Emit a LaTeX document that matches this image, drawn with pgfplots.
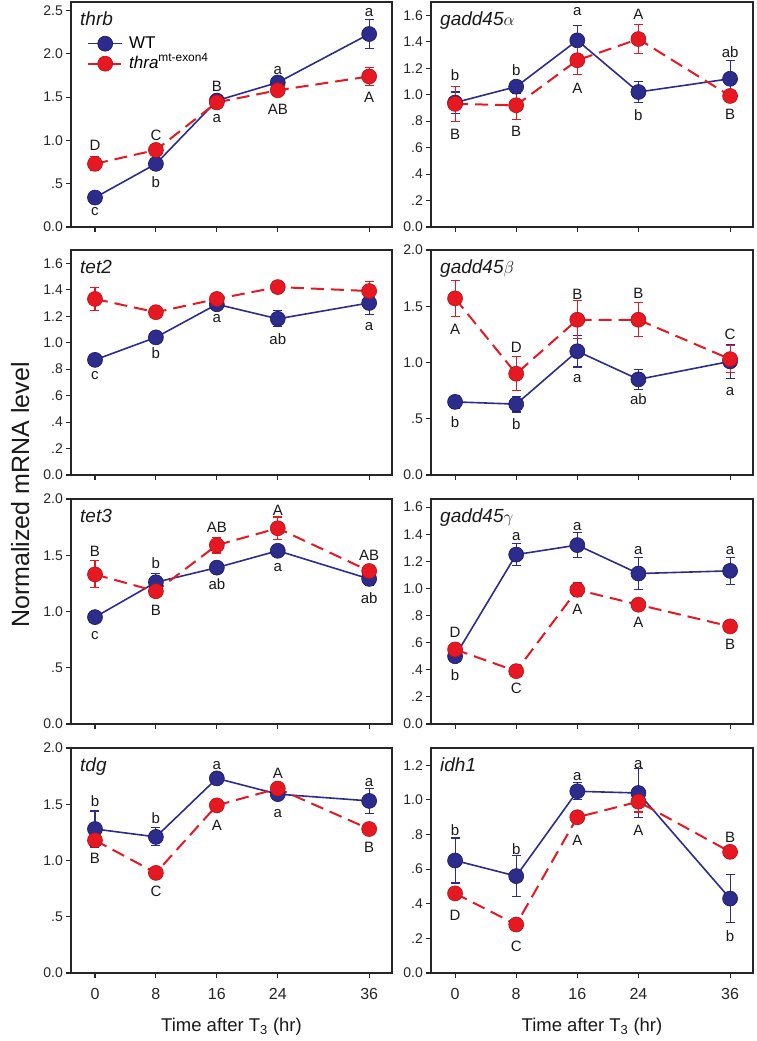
\documentclass[border=0pt]{standalone}
\usepackage{fontspec}
\setmainfont{Liberation Sans}
\usepackage{pgfplots}
\pgfplotsset{compat=1.18}
\definecolor{wtblue}{RGB}{44,44,140}
\definecolor{wtdark}{RGB}{25,25,95}
\definecolor{mtred}{RGB}{230,25,35}
\definecolor{mtdark}{RGB}{185,15,25}
\newcommand{\fs}[1]{\fontsize{#1}{#1}\selectfont}
\pgfplotsset{
  panel/.style={
    scale only axis, height=225pt,
    xmin=-3.15, xmax=39,
    xtick={0,8,16,24,36}, xticklabels={},
    tick align=outside, xtick pos=left, ytick pos=left,
    major tick length=5pt,
    axis line style={line width=1.2pt, black!85},
    every tick/.style={line width=1.1pt, black!85},
    yticklabel style={font=\fs{14}, text=black!85, inner sep=1pt, xshift=-2pt},
    xticklabel style={font=\fs{16}, text=black!85, yshift=-7pt},
    clip=false,
    legend image code/.code={\draw[mark repeat=2,mark phase=2,##1] plot coordinates {(0pt,0pt) (17pt,0pt) (34pt,0pt)};},
  },
  L/.style={width=321pt},
  R/.style={width=322pt},
  wt/.style={color=wtblue, line width=1.6pt, mark=*, mark size=7.5pt,
     mark options={solid, fill=wtblue, draw=wtdark, line width=0.6pt},
     error bars/.cd, y dir=both, y explicit,
     error bar style={line width=1.1pt, solid, wtblue},
     error mark options={rotate=90, mark size=4.5pt, line width=1.1pt, wtblue}},
  mt/.style={color=mtred, line width=2pt, dash pattern=on 13pt off 7pt, mark=*, mark size=7.5pt,
     mark options={solid, fill=mtred, draw=mtdark, line width=0.6pt},
     error bars/.cd, y dir=both, y explicit,
     error bar style={line width=1.1pt, solid, mtred},
     error mark options={rotate=90, mark size=4.5pt, line width=1.1pt, mtred}},
}
\tikzset{
  lbl/.style={font=\fs{15}, text height=10.7pt, text depth=0pt, inner sep=0pt, anchor=center, text=black!90},
  ttl/.style={font=\fs{19}\itshape, anchor=north west, inner sep=0pt, xshift=9pt, yshift=-10pt, text=black!90},
}
\newcommand{\lb}[3]{\node[lbl] at (axis cs:#1,#2) {#3};}
\newcommand{\ttl}[1]{\node[ttl] at (rel axis cs:0,1) {#1};}
\begin{document}
\begin{tikzpicture}
\path[use as bounding box] (0pt,0pt) rectangle (757pt,-1041pt);
% ---------- Panel 1: thrb
\begin{axis}[panel, L, at={(71pt,-2pt)}, anchor=north west,
  ymin=0, ymax=2.6, ytick={0,0.5,1,1.5,2,2.5}, yticklabels={0.0,.5,1.0,1.5,2.0,2.5},
  legend style={at={(rel axis cs:0,1)}, anchor=north west, xshift=16pt, yshift=-33pt, draw=none, fill=none,
    font=\fs{17}, row sep=3pt, column sep=5pt, inner sep=0pt, nodes={inner sep=1pt, text height=12pt, text depth=3pt}},
  legend cell align=left]
\addplot[wt] coordinates {(0,0.34) +- (0,0.04) (8,0.73) +- (0,0.04) (16,1.46) +- (0,0.03) (24,1.67) +- (0,0.04) (36,2.23) +- (0,0.17)};
\addlegendentry{WT}
\addplot[mt] coordinates {(0,0.73) +- (0,0.08) (8,0.89) +- (0,0.05) (16,1.44) +- (0,0.04) (24,1.58) +- (0,0.04) (36,1.74) +- (0,0.10)};
\addlegendentry{\itshape thra\textsuperscript{\upshape mt-exon4}}
\ttl{thrb}
\lb{0}{0.196}{c}\lb{8}{0.518}{b}\lb{16}{1.271}{a}\lb{24}{1.828}{a}\lb{36}{2.50}{a}
\lb{0}{0.941}{D}\lb{8}{1.056}{C}\lb{16}{1.624}{B}\lb{24}{1.363}{AB}\lb{36}{1.498}{A}
\end{axis}
% ---------- Panel 2: gadd45 alpha
\begin{axis}[panel, R, at={(431pt,-2pt)}, anchor=north west,
  ymin=0, ymax=1.7, ytick={0,0.2,0.4,0.6,0.8,1,1.2,1.4,1.6}, yticklabels={0.0,.2,.4,.6,.8,1.0,1.2,1.4,1.6}]
\addplot[wt] coordinates {(0,0.94) +- (0,0.08) (8,1.06) +- (0,0.05) (16,1.41) +- (0,0.11) (24,1.02) +- (0,0.08) (36,1.12) +- (0,0.14)};
\addplot[mt] coordinates {(0,0.93) +- (0,0.13) (8,0.92) +- (0,0.11) (16,1.26) +- (0,0.11) (24,1.42) +- (0,0.11) (36,0.99) +- (0,0.03)};
\ttl{gadd45$\alpha$}
\lb{0}{1.145}{b}\lb{8}{1.185}{b}\lb{16}{1.635}{a}\lb{24}{0.843}{b}\lb{36}{1.323}{ab}
\lb{0}{0.699}{B}\lb{8}{0.722}{B}\lb{16}{1.052}{A}\lb{24}{1.605}{A}\lb{36}{0.850}{B}
\end{axis}
% ---------- Panel 3: tet2
\begin{axis}[panel, L, at={(71pt,-250pt)}, anchor=north west,
  ymin=0, ymax=1.7, ytick={0,0.2,0.4,0.6,0.8,1,1.2,1.4,1.6}, yticklabels={0.0,.2,.4,.6,.8,1.0,1.2,1.4,1.6}]
\addplot[wt] coordinates {(0,0.87) +- (0,0.03) (8,1.04) +- (0,0.02) (16,1.29) +- (0,0.02) (24,1.18) +- (0,0.06) (36,1.30) +- (0,0.09)};
\addplot[mt] coordinates {(0,1.33) +- (0,0.09) (8,1.23) +- (0,0.02) (16,1.33) +- (0,0.04) (24,1.42) +- (0,0.04) (36,1.39) +- (0,0.07)};
\ttl{tet2}
\lb{0}{0.759}{c}\lb{8}{0.924}{b}\lb{16}{1.190}{a}\lb{24}{1.025}{ab}\lb{36}{1.132}{a}
\end{axis}
% ---------- Panel 4: gadd45 beta
\begin{axis}[panel, R, at={(431pt,-250pt)}, anchor=north west,
  ymin=0, ymax=2, ytick={0,0.5,1,1.5,2}, yticklabels={0.0,.5,1.0,1.5,2.0}]
\addplot[wt] coordinates {(0,0.65) +- (0,0.06) (8,0.63) +- (0,0.07) (16,1.10) +- (0,0.14) (24,0.85) +- (0,0.09) (36,1.01) +- (0,0.15)};
\addplot[mt] coordinates {(0,1.57) +- (0,0.16) (8,0.90) +- (0,0.15) (16,1.38) +- (0,0.17) (24,1.38) +- (0,0.15) (36,1.03) +- (0,0.12)};
\ttl{gadd45$\beta$}
\lb{0}{0.474}{b}\lb{8}{0.450}{b}\lb{16}{0.874}{a}\lb{24}{0.673}{ab}\lb{36}{0.756}{a}
\lb{0}{1.295}{A}\lb{8}{1.135}{D}\lb{16}{1.606}{B}\lb{24}{1.615}{B}\lb{36}{1.250}{C}
\end{axis}
% ---------- Panel 5: tet3
\begin{axis}[panel, L, at={(71pt,-499pt)}, anchor=north west,
  ymin=0, ymax=2, ytick={0,0.5,1,1.5,2}, yticklabels={0.0,.5,1.0,1.5,2.0}]
\addplot[wt] coordinates {(0,0.95) +- (0,0.02) (8,1.26) +- (0,0.08) (16,1.39) +- (0,0.03) (24,1.54) +- (0,0.04) (36,1.29) +- (0,0.06)};
\addplot[mt] coordinates {(0,1.33) +- (0,0.12) (8,1.18) +- (0,0.04) (16,1.59) +- (0,0.07) (24,1.74) +- (0,0.10) (36,1.36) +- (0,0.03)};
\ttl{tet3}
\lb{0}{0.80}{c}\lb{8}{1.428}{b}\lb{16}{1.241}{ab}\lb{24}{1.399}{a}\lb{36}{1.117}{ab}
\lb{0}{1.538}{B}\lb{8}{1.013}{B}\lb{16}{1.748}{AB}\lb{24}{1.902}{A}\lb{36}{1.502}{AB}
\end{axis}
% ---------- Panel 6: gadd45 gamma
\begin{axis}[panel, R, at={(431pt,-499pt)}, anchor=north west,
  ymin=0, ymax=1.66, ytick={0,0.2,0.4,0.6,0.8,1,1.2,1.4,1.6}, yticklabels={0.0,.2,.4,.6,.8,1.0,1.2,1.4,1.6}]
\addplot[wt] coordinates {(0,0.50) +- (0,0.04) (8,1.25) +- (0,0.08) (16,1.32) +- (0,0.09) (24,1.11) +- (0,0.12) (36,1.13) +- (0,0.10)};
\addplot[mt] coordinates {(0,0.55) +- (0,0.02) (8,0.39) +- (0,0.02) (16,0.99) +- (0,0.05) (24,0.88) +- (0,0.02) (36,0.72) +- (0,0.02)};
\ttl{gadd45$\gamma$}
\lb{0}{0.361}{b}\lb{8}{1.396}{a}\lb{16}{1.470}{a}\lb{24}{1.293}{a}\lb{36}{1.293}{a}
\lb{0}{0.680}{D}\lb{8}{0.263}{C}\lb{16}{0.847}{A}\lb{24}{0.748}{A}\lb{36}{0.587}{B}
\end{axis}
% ---------- Panel 7: tdg
\begin{axis}[panel, L, at={(71pt,-748pt)}, anchor=north west,
  ymin=0, ymax=2, ytick={0,0.5,1,1.5,2}, yticklabels={0.0,.5,1.0,1.5,2.0},
  xticklabels={0,8,16,24,36}]
\addplot[wt] coordinates {(0,1.28) +- (0,0.16) (8,1.21) +- (0,0.08) (16,1.73) +- (0,0.03) (24,1.59) +- (0,0.04) (36,1.53) +- (0,0.11)};
\addplot[mt] coordinates {(0,1.18) +- (0,0.05) (8,0.89) +- (0,0.02) (16,1.49) +- (0,0.02) (24,1.64) +- (0,0.03) (36,1.28) +- (0,0.02)};
\ttl{tdg}
\lb{0}{1.524}{b}\lb{8}{1.375}{b}\lb{16}{1.856}{a}\lb{24}{1.434}{a}\lb{36}{1.702}{a}
\lb{0}{1.019}{B}\lb{8}{0.728}{C}\lb{16}{1.313}{A}\lb{24}{1.773}{A}\lb{36}{1.120}{B}
\end{axis}
% ---------- Panel 8: idh1
\begin{axis}[panel, R, at={(431pt,-748pt)}, anchor=north west,
  ymin=0, ymax=1.3, ytick={0,0.2,0.4,0.6,0.8,1,1.2}, yticklabels={0.0,.2,.4,.6,.8,1.0,1.2},
  xticklabels={0,8,16,24,36}]
\addplot[wt] coordinates {(0,0.65) +- (0,0.13) (8,0.56) +- (0,0.12) (16,1.05) +- (0,0.05) (24,1.04) +- (0,0.14) (36,0.43) +- (0,0.14)};
\addplot[mt] coordinates {(0,0.46) +- (0,0.02) (8,0.28) +- (0,0.02) (16,0.90) +- (0,0.02) (24,0.99) +- (0,0.06) (36,0.70) +- (0,0.02)};
\ttl{idh1}
\lb{0}{0.828}{b}\lb{8}{0.718}{b}\lb{16}{1.146}{a}\lb{24}{1.213}{a}\lb{36}{0.212}{b}
\lb{0}{0.333}{D}\lb{8}{0.154}{C}\lb{16}{0.770}{A}\lb{24}{0.828}{A}\lb{36}{0.784}{B}
\end{axis}
% ---------- shared labels
\node[rotate=90, font=\fs{25}, text height=18pt, text depth=0pt, inner sep=0pt, text=black!90] at (20pt,-495pt) {Normalized mRNA level};
\node[font=\fs{18.5}, anchor=base, inner sep=0pt, text=black!90] at (231.5pt,-1031.7pt) {Time after T\textsubscript{3} (hr)};
\node[font=\fs{18.5}, anchor=base, inner sep=0pt, text=black!90] at (592pt,-1031.7pt) {Time after T\textsubscript{3} (hr)};
\end{tikzpicture}
\end{document}
